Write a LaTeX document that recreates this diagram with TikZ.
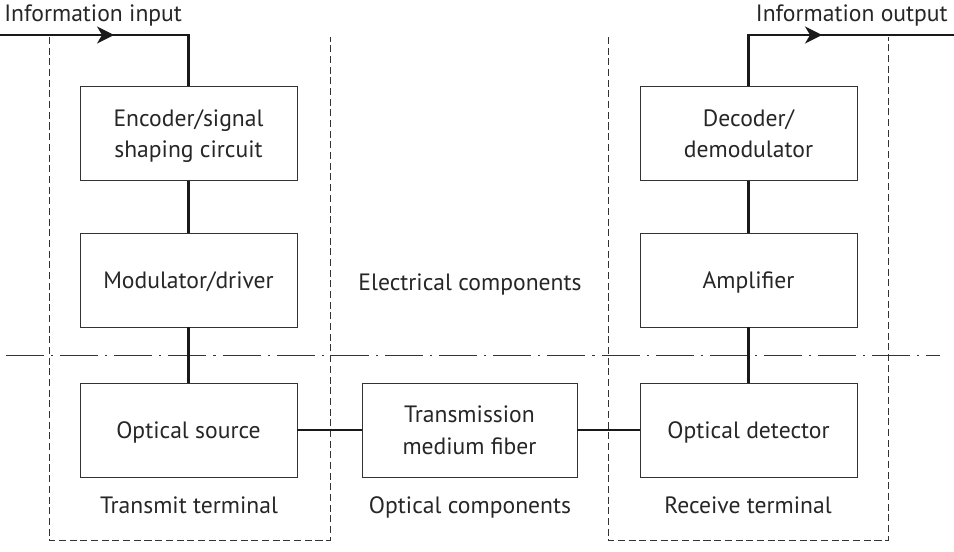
\documentclass[tikz,border=0pt]{standalone}
\usepackage{fontspec}
\setmainfont{PT Sans}
\usepackage{tikz}
\usetikzlibrary{positioning, arrows.meta, calc}

\begin{document}
\begin{tikzpicture}[
  x=0.025cm, y=-0.025cm,
  every node/.style={font=\fontsize{16.8pt}{22.5pt}\selectfont, text=black!85, text depth=0pt},
  block/.style={rectangle, draw=black!80, line width=0.6pt, minimum width=5.425cm,
                minimum height=2.35cm, align=center, inner sep=0pt},
  link/.style={line width=1.7pt, draw=black!90},
  feed/.style={line width=2.1pt, draw=black!90},
  region/.style={dash pattern=on 5pt off 2.6pt, line width=0.6pt, draw=black!80},
  divide/.style={dash pattern=on 27pt off 5pt on 1.5pt off 5pt, line width=0.6pt, draw=black!80},
  tip/.style={-{Stealth[length=12pt, width=12pt, inset=3.5pt]}},
]
\useasboundingbox (0,0) rectangle (954,552);

% --- Transmit side
\node[block] (enc) at (188.5, 133.5) {Encoder/signal\\shaping circuit};
\node[block] (mod) at (188.5, 280) {Modulator/driver};
\node[block] (src) at (188.5, 430) {Optical source};

% --- Fiber
\node[block, minimum width=5.375cm] (fib) at (469.5, 430) {Transmission\\medium fiber};

% --- Receive side
\node[block] (dec) at (748.5, 133.5) {Decoder/\\demodulator};
\node[block] (amp) at (748.5, 280) {Amplifier};
\node[block] (det) at (748.5, 430) {Optical detector};

% --- Region labels
\node (elec) at (470, 282) {Electrical components};
\node (tx)   at (189, 505) {Transmit terminal};
\node (opt)  at (470, 505) {Optical components};
\node (rx)   at (748, 505) {Receive terminal};

% --- Dashed terminal frames
\draw[region] (49, 37) -- (49, 540) -- (330, 540) -- (330, 37);
\draw[region] (608, 37) -- (608, 540) -- (888, 540) -- (888, 37);

% --- Electrical / optical divide
\draw[divide] (6, 355) -- (940, 355);

% --- Input and output
\coordinate (in0) at (0, 35);
\coordinate (inarr) at (114, 35);
\coordinate (out1) at (954, 35);
\coordinate (outarr) at (822, 35);
\node[anchor=south west, inner sep=0pt] (inlbl) at (4, 22) {Information input};
\node[anchor=south east, inner sep=0pt] (outlbl) at (948, 22) {Information output};

\draw[feed] (in0) -| (enc.north);
\draw[feed, tip] (in0) -- (inarr);
\draw[feed] (dec.north) |- (out1);
\draw[feed, tip] (dec.north |- out1) -- (outarr);

% --- Signal path
\draw[link] (enc) -- (mod);
\draw[link] (mod) -- (src);
\draw[link] (src) -- (fib);
\draw[link] (fib) -- (det);
\draw[link] (det) -- (amp);
\draw[link] (amp) -- (dec);

\end{tikzpicture}
\end{document}
